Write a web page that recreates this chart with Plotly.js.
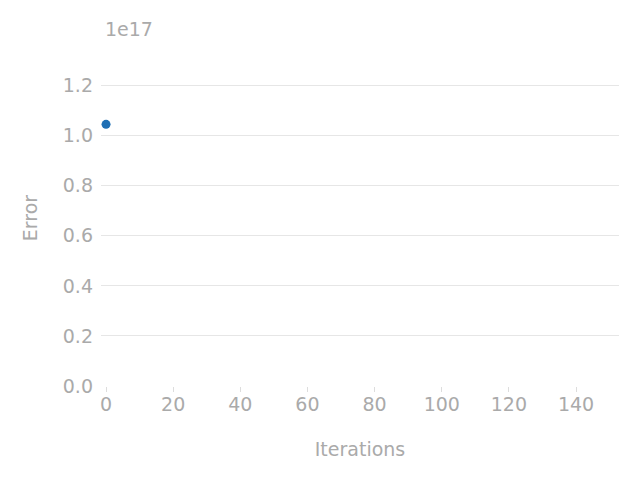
<!DOCTYPE html>
<html>
<head>
<meta charset="utf-8">
<script src="https://cdn.plot.ly/plotly-3.0.1.min.js"></script>
<style>body{margin:0;padding:0;background:#fff;} #chart{width:640px;height:480px;}</style>
</head>
<body>
<div id="chart"></div>
<script>
const iterations = [0];
const errors = [1.045e17];
const xTickVals = [0, 20, 40, 60, 80, 100, 120, 140];
const yTickVals = [0, 0.2e17, 0.4e17, 0.6e17, 0.8e17, 1.0e17, 1.2e17];
const yTickText = ["0.0", "0.2", "0.4", "0.6", "0.8", "1.0", "1.2"];

const grey = "#aaaaaa";
const fs = 19;
const trace = {
  x: iterations, y: errors, type: "scatter", mode: "markers",
  marker: {color: "#1f6fb4", size: 9},
  cliponaxis: true, hoverinfo: "skip"
};
const layout = {
  width: 640, height: 480,
  margin: {l: 101, r: 21, t: 50, b: 94},
  paper_bgcolor: "#ffffff", plot_bgcolor: "#ffffff",
  showlegend: false,
  font: {family: "DejaVu Sans", size: fs, color: grey},
  xaxis: {
    range: [-1.5, 152.8], tickvals: xTickVals, ticks: "outside", ticklen: 5,
    ticklabelstandoff: -4,
    tickcolor: "#dddddd", showgrid: false, zeroline: false, showline: false,
    tickfont: {size: fs, color: grey},
    title: {text: "Iterations", font: {size: fs, color: grey}, standoff: 28}
  },
  yaxis: {
    range: [0, 1.342e17], tickvals: yTickVals, ticktext: yTickText,
    showgrid: true, gridcolor: "#e6e6e6", gridwidth: 1, zeroline: false, showline: false,
    ticks: "", ticklabelstandoff: 7, tickfont: {size: fs, color: grey},
    title: {text: "Error", font: {size: fs, color: grey}, standoff: 20}
  },
  annotations: [{
    text: "1e17", xref: "paper", yref: "paper", x: 0.0, y: 1.0,
    xanchor: "left", yanchor: "bottom", yshift: 8, xshift: 2, showarrow: false,
    font: {size: fs, color: grey}
  }]
};
Plotly.newPlot("chart", [trace], layout, {staticPlot: true});
</script>
</body>
</html>
